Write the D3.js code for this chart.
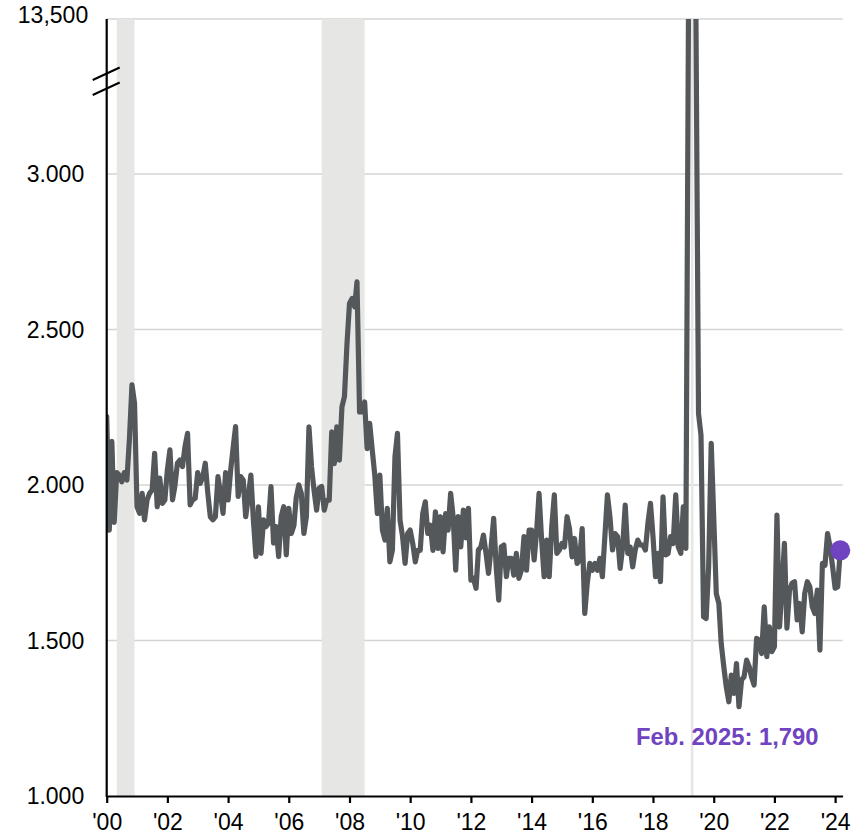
<!DOCTYPE html>
<html>
<head>
<meta charset="utf-8">
<script src="https://cdn.jsdelivr.net/npm/d3@7"></script>
<style>
  body { margin: 0; background: #fff; }
  svg { display: block; font-family: "Liberation Sans", Arial, sans-serif; }
</style>
</head>
<body>
<div id="chart"></div>
<script>
// monthly values, Dec 2000 .. Feb 2025 (thousands)
const firstMonth = new Date(2000, 11, 1)
const values = [
  2220, 1855, 2140, 1880, 2040, 2032, 2010, 2040, 2016, 2150, 2322, 2263,
  1930, 1909, 1973, 1888, 1952, 1973, 1984, 2102, 1930, 2022, 1941, 1952,
  2048, 2113, 1952, 1995, 2070, 2080, 2059, 2123, 2166, 1936, 1952, 1957,
  2040, 2005, 2027, 2070, 1973, 1898, 1888, 1898, 2027, 1973, 1909, 2040,
  1952, 2048, 2123, 2188, 1963, 2027, 2016, 1898, 1963, 2032, 1888, 1770,
  1930, 1780, 1888, 1866, 1877, 1995, 1813, 1866, 1770, 1898, 1930, 1775,
  1925, 1844, 1870, 1960, 2000, 1973, 1844, 1898, 2187, 2058, 1983, 1919,
  1990, 1995, 1919, 1951, 1951, 2171, 2069, 2187, 2080, 2251, 2284, 2455,
  2584, 2600, 2573, 2653, 2235, 2235, 2267, 2117, 2198, 2112, 2032, 1908,
  2032, 1855, 1823, 1925, 1753, 1790, 2091, 2166, 1887, 1833, 1748, 1844,
  1855, 1812, 1753, 1790, 1790, 1908, 1946, 1844, 1871, 1790, 1914, 1796,
  1898, 1785, 1908, 1855, 1973, 1898, 1726, 1898, 1801, 1919, 1830, 1925,
  1694, 1700, 1668, 1791, 1801, 1839, 1780, 1716, 1800, 1893, 1737, 1630,
  1801, 1807, 1705, 1764, 1764, 1710, 1780, 1700, 1727, 1834, 1726, 1855,
  1855, 1759, 1855, 1973, 1823, 1705, 1823, 1705, 1866, 1968, 1780, 1791,
  1812, 1801, 1898, 1860, 1769, 1828, 1748, 1759, 1860, 1587, 1684, 1748,
  1726, 1748, 1726, 1764, 1705, 1834, 1968, 1898, 1791, 1844, 1834, 1732,
  1800, 1935, 1780, 1801, 1737, 1791, 1823, 1807, 1807, 1791, 1877, 1941,
  1835, 1705, 1780, 1689, 1962, 1775, 1780, 1834, 1812, 1968, 1801, 1780,
  1930, 1796, 13700, 13700, 13700, 13700, 2230, 2160, 1576, 1571, 1737, 2134,
  1898, 1651, 1619, 1491, 1416, 1351, 1303, 1389, 1330, 1426, 1287, 1373,
  1383, 1437, 1416, 1383, 1357, 1507, 1501, 1458, 1608, 1448, 1544, 1464,
  1480, 1903, 1544, 1662, 1812, 1540, 1662, 1684, 1689, 1566, 1619, 1528,
  1651, 1689, 1673, 1608, 1587, 1662, 1469, 1748, 1742, 1844, 1801, 1737,
  1668, 1673, 1790
]
const recessions = [
  ["2001-04", "2001-11"],
  ["2008-01", "2009-06"],
  ["2020-03", "2020-04"]
]
const xTickYears = [2000, 2002, 2004, 2006, 2008, 2010, 2012, 2014, 2016, 2018, 2020, 2022, 2024]
const xTickLabels = ["'00", "'02", "'04", "'06", "'08", "'10", "'12", "'14", "'16", "'18", "'20", "'22", "'24"]
const yTickValues = [1000, 1500, 2000, 2500, 3000]
const yTickLabels = ["1.000", "1.500", "2.000", "2.500", "3.000"]
const yTopValue = 13500
const yTopLabel = "13,500"
const lastLabel = "Feb. 2025: 1,790"

let width = 862
let height = 836
let margin = {top: 19, right: 19.4, bottom: 40, left: 106.7}

const parseMonth = d3.timeParse("%Y-%m")
const dates = d3.timeMonth.range(firstMonth, d3.timeMonth.offset(firstMonth, values.length))
const data = values.map((v, i) => ({date: dates[i], value: v}))

const svg = d3.select("#chart").append("svg")
  .attr("width", width)
  .attr("height", height)

const x = d3.scaleTime()
  .domain([firstMonth, d3.timeMonth.offset(firstMonth, values.length)])
  .range([margin.left, width - margin.right])

// broken axis: 1,000-3,000 linear, then squeezed up to 13,500
const y = d3.scaleLinear()
  .domain([1000, 3000, yTopValue])
  .range([height - margin.bottom, 174, margin.top])

// gridlines
svg.append("g")
  .selectAll("line")
  .data(yTickValues.slice(1).concat([yTopValue]))
  .join("line")
    .attr("x1", margin.left)
    .attr("x2", width - margin.right)
    .attr("y1", d => y(d))
    .attr("y2", d => y(d))
    .attr("stroke", "#d4d4d4")
    .attr("stroke-width", 1.6)

// recession shading
svg.append("g")
  .selectAll("rect")
  .data(recessions)
  .join("rect")
    .attr("x", d => x(parseMonth(d[0])))
    .attr("width", d => x(parseMonth(d[1])) - x(parseMonth(d[0])))
    .attr("y", margin.top)
    .attr("height", y(1000) - margin.top)
    .attr("fill", "#e6e6e4")

svg.append("clipPath").attr("id", "plot-clip")
  .append("rect")
    .attr("x", margin.left)
    .attr("y", margin.top)
    .attr("width", width - margin.left)
    .attr("height", height - margin.top - margin.bottom)

svg.append("path")
  .datum(data)
  .attr("clip-path", "url(#plot-clip)")
  .attr("fill", "none")
  .attr("stroke", "#55585a")
  .attr("stroke-width", 5.2)
  .attr("stroke-linejoin", "round")
  .attr("stroke-linecap", "round")
  .attr("d", d3.line()
    .x(d => x(d.date))
    .y(d => y(d.value)))

// x axis
const xAxis = svg.append("g")
  .attr("transform", `translate(0,${y(1000)})`)
  .call(d3.axisBottom(x)
    .tickValues(xTickYears.map(yr => new Date(yr, 11, 1)))
    .tickFormat((d, i) => xTickLabels[i])
    .tickSize(7)
    .tickSizeOuter(0))
xAxis.select(".domain").attr("stroke", "#000").attr("stroke-width", 2.2)
xAxis.selectAll(".tick line").attr("stroke", "#000").attr("stroke-width", 2.2)
xAxis.selectAll(".tick text")
  .attr("y", 18)
  .attr("font-size", 23)
  .attr("fill", "#000")
  .attr("font-family", "Liberation Sans, Arial, sans-serif")

// y axis line
svg.append("line")
  .attr("x1", margin.left).attr("x2", margin.left)
  .attr("y1", margin.top).attr("y2", y(1000) + 1.1)
  .attr("stroke", "#000")
  .attr("stroke-width", 2.2)

// break marks
let breakY = y(3000) - 0.6 * (y(3000) - y(yTopValue))
svg.append("g")
  .selectAll("line")
  .data([-7.5, 7.5])
  .join("line")
    .attr("x1", margin.left - 14)
    .attr("x2", margin.left + 13)
    .attr("y1", d => breakY + d + 6.5)
    .attr("y2", d => breakY + d - 6)
    .attr("stroke", "#000")
    .attr("stroke-width", 2)

// y tick labels
svg.append("g")
  .selectAll("text")
  .data(yTickValues)
  .join("text")
    .attr("x", margin.left - 22.5)
    .attr("y", d => y(d))
    .attr("dy", "0.35em")
    .attr("text-anchor", "end")
    .attr("font-size", 23)
    .attr("fill", "#000")
    .text((d, i) => yTickLabels[i])

svg.append("text")
  .attr("x", margin.left - 18.5)
  .attr("y", y(yTopValue) - 4)
  .attr("dy", "0.35em")
  .attr("text-anchor", "end")
  .attr("font-size", 23)
  .attr("fill", "#000")
  .text(yTopLabel)

// last point
const last = data[data.length - 1]
svg.append("circle")
  .attr("cx", x(last.date))
  .attr("cy", y(last.value))
  .attr("r", 10)
  .attr("fill", "#7043c0")

svg.append("text")
  .attr("x", x(last.date) - 113)
  .attr("y", y(1000) - 51)
  .attr("text-anchor", "middle")
  .attr("font-size", 23.8)
  .attr("font-weight", "bold")
  .attr("fill", "#7043c0")
  .text(lastLabel)
</script>
</body>
</html>
